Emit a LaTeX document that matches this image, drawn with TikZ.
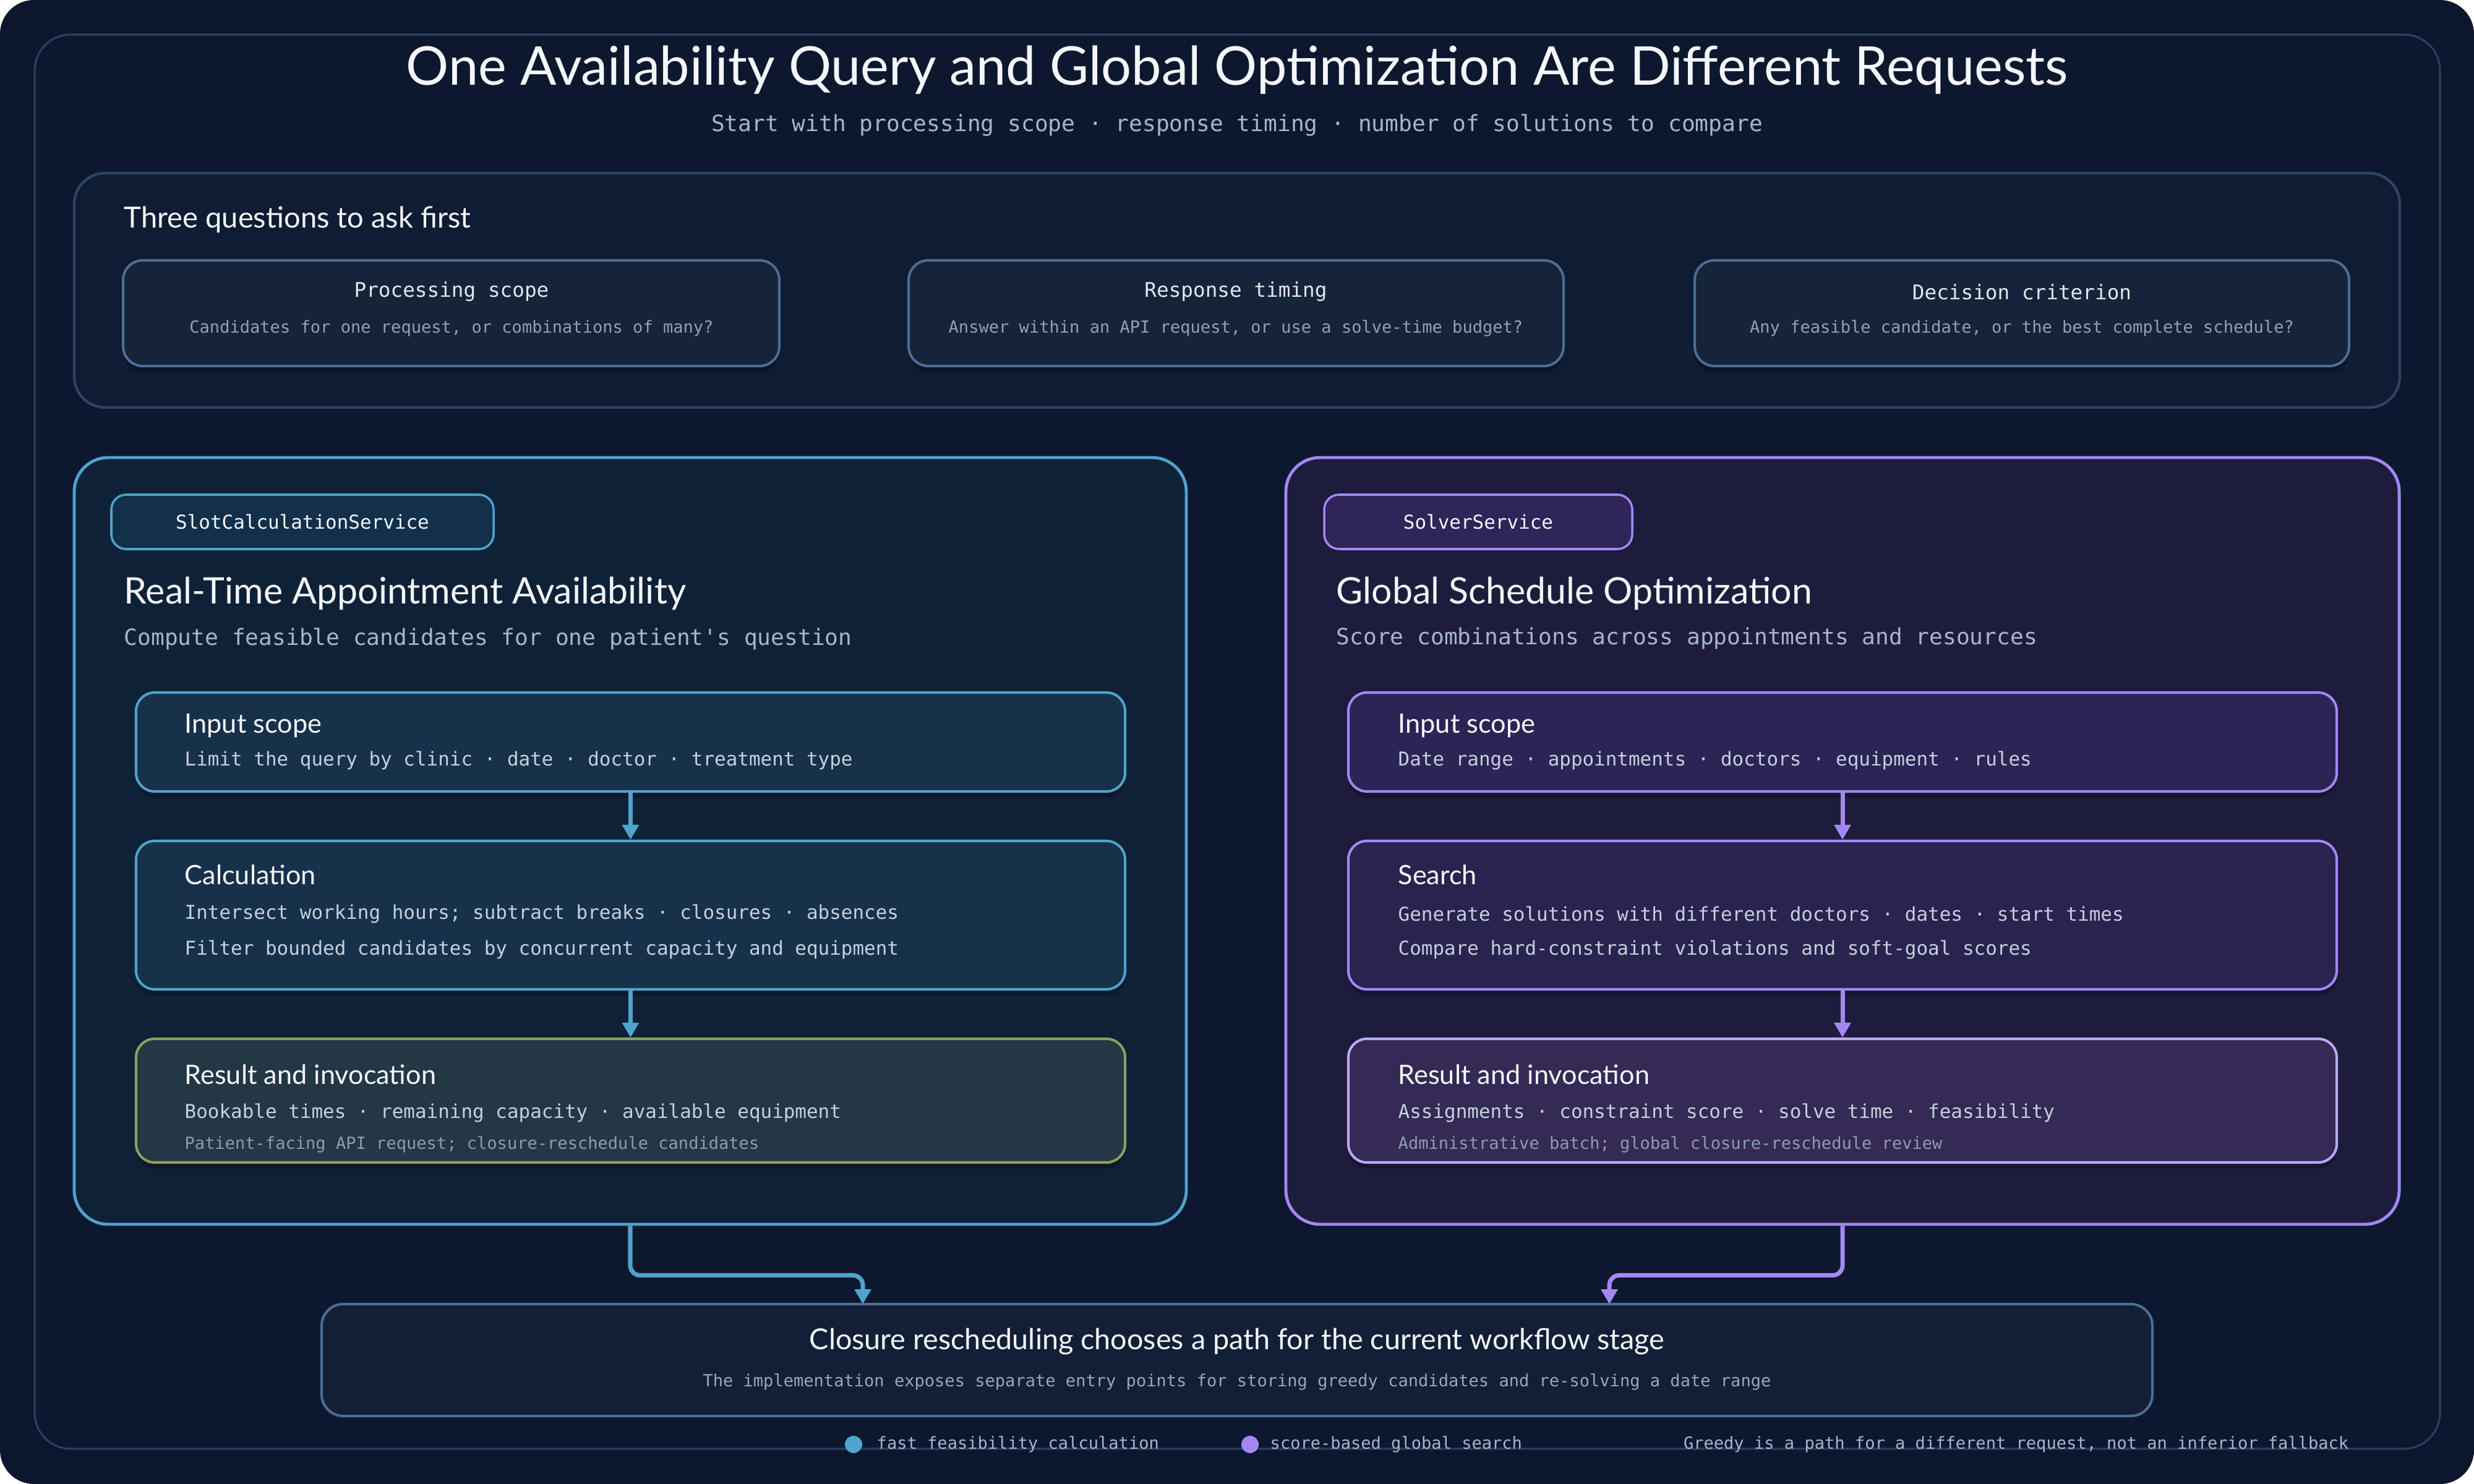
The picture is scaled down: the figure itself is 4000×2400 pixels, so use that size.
\documentclass[tikz,border=0pt]{standalone}
\usepackage{fontspec}
\setmainfont{Lato}
\newfontfamily\hand{Lato}
\newfontfamily\mono{DejaVu Sans Mono}
\usetikzlibrary{arrows.meta,shadows,calc}
\definecolor{pagebg}{HTML}{0C162C}
\definecolor{framebg}{HTML}{0D182F}
\definecolor{frameline}{HTML}{2B3F63}
\definecolor{qfill}{HTML}{0F1C33}
\definecolor{qline}{HTML}{2C4468}
\definecolor{cardfill}{HTML}{16243A}
\definecolor{cardline}{HTML}{4D6D94}
\definecolor{cyanline}{HTML}{4FA3CC}
\definecolor{lpanelfill}{HTML}{0F2136}
\definecolor{lbadgefill}{HTML}{13304A}
\definecolor{lboxfill}{HTML}{18314A}
\definecolor{lresfill}{HTML}{233744}
\definecolor{olive}{HTML}{8C9F5F}
\definecolor{purpline}{HTML}{A487F5}
\definecolor{rpanelfill}{HTML}{1D1C3C}
\definecolor{rbadgefill}{HTML}{2F2558}
\definecolor{rboxfill}{HTML}{2D2456}
\definecolor{rbox2fill}{HTML}{2A2350}
\definecolor{rresfill}{HTML}{342A55}
\definecolor{rresline}{HTML}{BCA9F7}
\definecolor{botfill}{HTML}{131F36}
\definecolor{txtwhite}{HTML}{F4F6FB}
\definecolor{txtgray}{HTML}{A8B5C9}
\definecolor{txtbody}{HTML}{C5D0DE}
\definecolor{txtsmall}{HTML}{8E9BB0}
\newcommand\boxat[6]{%
  \node[#6, inner sep=0pt, minimum width={(#4-#2)*0.1mm}, minimum height={(#5-#3)*0.1mm}] (#1) at ({(#2+#4)/2},{(#3+#5)/2}) {};}
\tikzset{
  shad/.style={drop shadow={shadow xshift=0mm, shadow yshift=-1mm, opacity=0.22, fill=black}},
  cardbox/.style={draw=cardline, fill=cardfill, line width=1.15pt, rounded corners=3.2mm, shad},
  lbox/.style={draw=cyanline, fill=lboxfill, line width=1.15pt, rounded corners=3mm, shad},
  rbox/.style={draw=purpline, fill=rboxfill, line width=1.15pt, rounded corners=3mm, shad},
  handtitle/.style={font=\hand\fontsize{24.6}{30}\selectfont, text=txtwhite},
  handhead/.style={font=\hand\fontsize{16.8}{20}\selectfont, text=txtwhite},
  handsmall/.style={font=\hand\fontsize{12.3}{15}\selectfont, text=txtwhite},
  monosub/.style={font=\mono\fontsize{10.3}{13}\selectfont, text=txtgray},
  monobody/.style={font=\mono\fontsize{8.8}{11}\selectfont, text=txtbody},
  monosmall/.style={font=\mono\fontsize{7.7}{9.5}\selectfont, text=txtsmall},
  cardtitle/.style={font=\mono\fontsize{9.3}{11}\selectfont, text=txtwhite!92!cardfill},
  badgetext/.style={font=\mono\fontsize{8.8}{11}\selectfont, text=txtwhite},
  flowc/.style={draw=cyanline, line width=2pt, -{Triangle[width=2.6mm,length=2.4mm]}},
  flowp/.style={draw=purpline, line width=2pt, -{Triangle[width=2.6mm,length=2.4mm]}},
  lw/.style={anchor=west, inner sep=0pt}
}
\begin{document}
\begin{tikzpicture}[x=0.1mm,y=-0.1mm]
\useasboundingbox (0,0) rectangle (4000,2400);
\fill[white] (0,0) rectangle (4000,2400);
\fill[pagebg, rounded corners=5.5mm] (0,0) rectangle (4000,2400);
% outer frame
\boxat{frame}{56}{56}{3945}{2343}{draw=frameline, fill=framebg, line width=0.9pt, rounded corners=5.8mm}
% title
\node[handtitle] (title) at (2000,113) {One Availability Query and Global Optimization Are Different Requests};
\node[monosub] (subtitle) at (2000,203) {Start with processing scope · response timing · number of solutions to compare};
% questions panel
\boxat{qpanel}{120}{280}{3880}{659}{draw=qline, fill=qfill, line width=1.2pt, rounded corners=5mm}
\node[handsmall, font=\hand\fontsize{13.4}{16}\selectfont, lw] (qhead) at (200,355) {Three questions to ask first};
\boxat{card1}{199}{421}{1260}{592}{cardbox}
\boxat{card2}{1469}{421}{2528}{592}{cardbox}
\boxat{card3}{2740}{421}{3798}{592}{cardbox}
\node[cardtitle] (c1t) at (730,472) {Processing scope};
\node[monosmall, text=txtgray!85!cardfill] (c1s) at (730,531) {Candidates for one request, or combinations of many?};
\node[cardtitle] (c2t) at (1998,472) {Response timing};
\node[monosmall, text=txtgray!85!cardfill] (c2s) at (1998,531) {Answer within an API request, or use a solve-time budget?};
\node[cardtitle] (c3t) at (3269,472) {Decision criterion};
\node[monosmall, text=txtgray!85!cardfill] (c3s) at (3269,531) {Any feasible candidate, or the best complete schedule?};
% left panel
\boxat{lpanel}{120}{740}{1918}{1980}{draw=cyanline, fill=lpanelfill, line width=1.4pt, rounded corners=5.5mm}
\boxat{lbadge}{180}{800}{798}{888}{draw=cyanline, fill=lbadgefill, line width=1pt, rounded corners=2.4mm}
\node[badgetext] (lbt) at (489,844) {SlotCalculationService};
\node[handhead, lw] (lhead) at (200,960) {Real-Time Appointment Availability};
\node[monosub, lw] (lsub) at (200,1033) {Compute feasible candidates for one patient's question};
\boxat{lb1}{220}{1120}{1819}{1280}{lbox}
\boxat{lb2}{220}{1360}{1819}{1600}{lbox}
\boxat{lb3}{220}{1680}{1819}{1880}{lbox, draw=olive, fill=lresfill}
\node[handsmall, lw] (lb1t) at (298,1174) {Input scope};
\node[monobody, lw] (lb1a) at (298,1230) {Limit the query by clinic · date · doctor · treatment type};
\node[handsmall, lw] (lb2t) at (298,1415) {Calculation};
\node[monobody, lw] (lb2a) at (298,1478) {Intersect working hours; subtract breaks · closures · absences};
\node[monobody, lw] (lb2b) at (298,1536) {Filter bounded candidates by concurrent capacity and equipment};
\node[handsmall, lw] (lb3t) at (298,1738) {Result and invocation};
\node[monobody, lw] (lb3a) at (298,1800) {Bookable times · remaining capacity · available equipment};
\node[monosmall, lw] (lb3b) at (298,1851) {Patient-facing API request; closure-reschedule candidates};
\draw[flowc] (lb1.south) -- (lb2.north);
\draw[flowc] (lb2.south) -- (lb3.north);
% right panel
\boxat{rpanel}{2079}{740}{3879}{1980}{draw=purpline, fill=rpanelfill, line width=1.4pt, rounded corners=5.5mm}
\boxat{rbadge}{2141}{800}{2639}{888}{draw=purpline, fill=rbadgefill, line width=1pt, rounded corners=2.4mm}
\node[badgetext] (rbt) at (2390,844) {SolverService};
\node[handhead, lw] (rhead) at (2160,960) {Global Schedule Optimization};
\node[monosub, lw] (rsub) at (2160,1033) {Score combinations across appointments and resources};
\boxat{rb1}{2180}{1120}{3778}{1280}{rbox}
\boxat{rb2}{2180}{1360}{3778}{1600}{rbox, fill=rbox2fill}
\boxat{rb3}{2180}{1680}{3778}{1880}{rbox, draw=rresline, fill=rresfill}
\node[handsmall, lw] (rb1t) at (2260,1174) {Input scope};
\node[monobody, lw] (rb1a) at (2260,1230) {Date range · appointments · doctors · equipment · rules};
\node[handsmall, lw] (rb2t) at (2260,1415) {Search};
\node[monobody, lw] (rb2a) at (2260,1478) {Generate solutions with different doctors · dates · start times};
\node[monobody, lw] (rb2b) at (2260,1536) {Compare hard-constraint violations and soft-goal scores};
\node[handsmall, lw] (rb3t) at (2260,1738) {Result and invocation};
\node[monobody, lw] (rb3a) at (2260,1800) {Assignments · constraint score · solve time · feasibility};
\node[monosmall, lw] (rb3b) at (2260,1851) {Administrative batch; global closure-reschedule review};
\draw[flowp] (rb1.south) -- (rb2.north);
\draw[flowp] (rb2.south) -- (rb3.north);
% bottom box
\boxat{bot}{520}{2109}{3480}{2290}{draw=cardline, fill=botfill, line width=1.15pt, rounded corners=3.5mm}
\node[handsmall, font=\hand\fontsize{13.3}{16}\selectfont] (bott) at (2000,2170) {Closure rescheduling chooses a path for the current workflow stage};
\node[monosmall, text=txtgray!90!botfill] (bots) at (2000,2235) {The implementation exposes separate entry points for storing greedy candidates and re-solving a date range};
\coordinate (bl) at (1395,2109);
\coordinate (br) at (2602,2109);
\draw[flowc, rounded corners=1.6mm] (lpanel.south) -- ++(0,80) -| (bl);
\draw[flowp, rounded corners=1.6mm] (rpanel.south) -- ++(0,80) -| (br);
% legend
\fill[cyanline] (1380,2336) circle (14) node (dot1) {};
\node[monosmall, text=txtgray, lw] (leg1) at (1417,2336) {fast feasibility calculation};
\fill[purpline] (2021,2336) circle (14) node (dot2) {};
\node[monosmall, text=txtgray, lw] (leg2) at (2053,2336) {score-based global search};
\node[monosmall, text=txtgray, anchor=east, inner sep=0pt] (leg3) at (3798,2336) {Greedy is a path for a different request, not an inferior fallback};
\end{tikzpicture}
\end{document}
